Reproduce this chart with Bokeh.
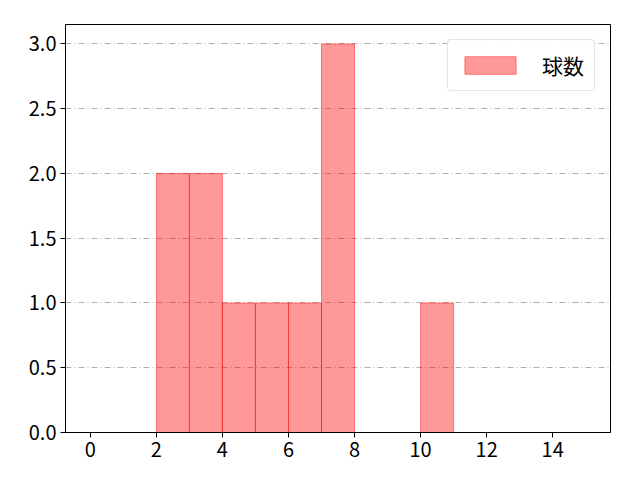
from bokeh.plotting import figure
from bokeh.models import ColumnDataSource, Range1d, FixedTicker, PrintfTickFormatter
from bokeh.embed import file_html
from bokeh.resources import INLINE

# histogram bins (left/right edges) and counts
bin_left = [2, 3, 4, 5, 6, 7, 10]
bin_right = [3, 4, 5, 6, 7, 8, 11]
counts = [2, 2, 1, 1, 1, 3, 1]
x_ticks = [0, 2, 4, 6, 8, 10, 12, 14]
y_ticks = [0.0, 0.5, 1.0, 1.5, 2.0, 2.5, 3.0]

src = ColumnDataSource(dict(left=bin_left, right=bin_right, top=counts,
                            bottom=[0] * len(counts)))

p = figure(frame_width=545, frame_height=408, output_backend="svg",
           toolbar_location=None,
           x_range=Range1d(-0.75, 15.75), y_range=Range1d(0, 3.15),
           min_border_left=65, min_border_top=24, min_border_right=22,
           min_border_bottom=40)

p.quad(left="left", right="right", top="top", bottom="bottom", source=src,
       fill_color="red", fill_alpha=0.4, line_color="red", line_alpha=0.45,
       line_width=1, legend_label="球数")

font = "Noto Sans CJK JP"
p.xaxis.ticker = FixedTicker(ticks=x_ticks)
p.yaxis.ticker = FixedTicker(ticks=y_ticks)
p.yaxis.formatter = PrintfTickFormatter(format="%.1f")
for ax in (p.xaxis, p.yaxis):
    ax.major_label_text_font = font
    ax.major_label_text_font_size = "20px"
    ax.major_label_text_color = "black"
    ax.axis_line_color = "black"
    ax.major_tick_line_color = "black"
    ax.major_tick_out = 5
    ax.major_tick_in = 0
    ax.minor_tick_line_color = None
    ax.major_label_standoff = 4

p.xgrid.grid_line_color = None
p.ygrid.grid_line_color = "#b0b0b0"
p.ygrid.grid_line_dash = "6 3 1 3"
p.ygrid.grid_line_width = 1

p.outline_line_color = "black"
p.outline_line_alpha = 1.0

p.legend.location = "top_right"
p.legend.label_text_font = font
p.legend.label_text_font_size = "21px"
p.legend.label_text_color = "black"
p.legend.border_line_color = "#cccccc"
p.legend.border_radius = 4
p.legend.glyph_width = 64
p.legend.glyph_height = 22
p.legend.label_standoff = 20
p.legend.margin = 15
p.legend.padding = 10

open("out.html", "w").write(file_html(p, INLINE))
